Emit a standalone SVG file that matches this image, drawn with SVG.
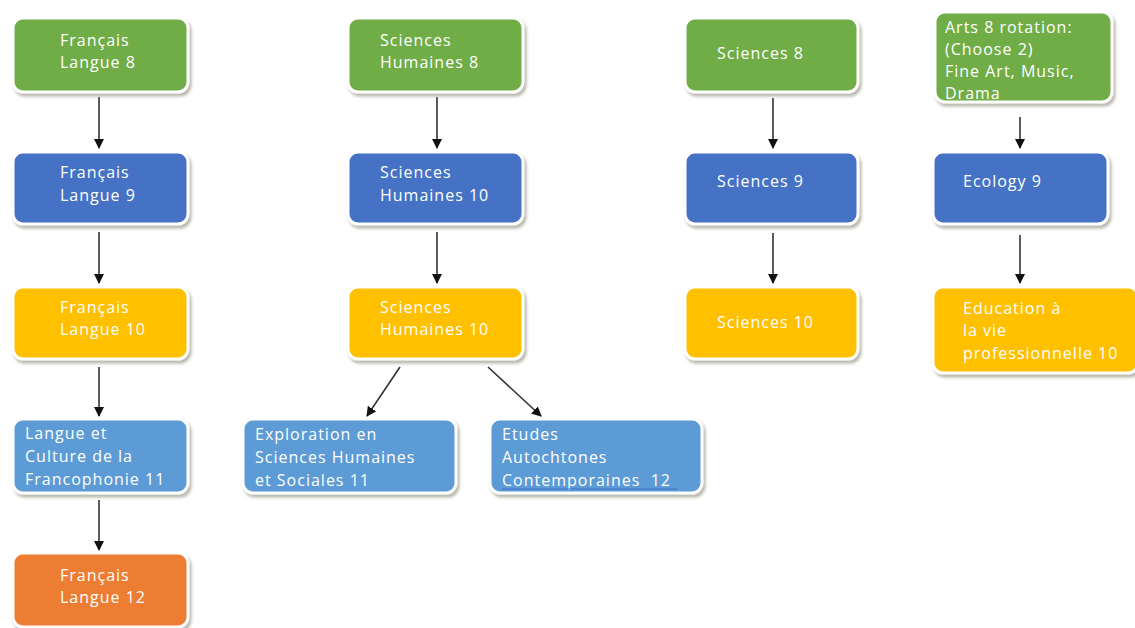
<svg xmlns="http://www.w3.org/2000/svg" width="1135" height="628" viewBox="0 0 1135 628">
<style>
.box{stroke:#ffffff;stroke-width:3;filter:url(#sh)}
.g{fill:#70AD47}.b{fill:#4472C4}.y{fill:#FFC000}.lb{fill:#5B9BD5}.o{fill:#ED7D31}
text{font-family:"Open Sans","Liberation Sans",sans-serif;font-size:16px;font-weight:500;letter-spacing:1px;fill:#ffffff;dominant-baseline:central}
.c line{stroke:#333333;stroke-width:1.6;marker-end:url(#ah)}
</style>
<defs>
<filter id="sh" x="-10%" y="-10%" width="125%" height="130%">
<feDropShadow dx="2" dy="3" stdDeviation="1.6" flood-color="#9a9a8a" flood-opacity="0.7"/>
</filter>
<marker id="ah" viewBox="0 0 10 10" refX="9" refY="5" markerWidth="10" markerHeight="10" markerUnits="userSpaceOnUse" orient="auto">
<path d="M0,0 L10,5 L0,10 Z" fill="#111111"/>
</marker>
</defs>
<rect width="1135" height="628" fill="#ffffff"/>
<g class="c" id="connectors">
<line x1="99" y1="97" x2="99" y2="148"/>
<line x1="99" y1="232" x2="99" y2="283"/>
<line x1="99" y1="367" x2="99" y2="416"/>
<line x1="99" y1="500" x2="99" y2="550"/>
<line x1="437" y1="97" x2="437" y2="148"/>
<line x1="437" y1="232" x2="437" y2="283"/>
<line x1="400" y1="367" x2="367" y2="416"/>
<line x1="488" y1="367" x2="541" y2="416"/>
<line x1="773" y1="98" x2="773" y2="148"/>
<line x1="773" y1="233" x2="773" y2="283"/>
<line x1="1020" y1="117" x2="1020" y2="148"/>
<line x1="1020" y1="235" x2="1020" y2="283"/>
</g>
<g id="fl8"><rect class="box g" x="13" y="18" width="175" height="74" rx="10"/><text x="60" y="40">Français</text><text x="60" y="62">Langue 8</text></g>
<g id="fl9"><rect class="box b" x="13" y="152" width="175" height="72" rx="10"/><text x="60" y="172">Français</text><text x="60" y="195">Langue 9</text></g>
<g id="fl10"><rect class="box y" x="13" y="287" width="175" height="72" rx="10"/><text x="60" y="307">Français</text><text x="60" y="329">Langue 10</text></g>
<g id="lcf11"><rect class="box lb" x="13" y="419" width="175" height="74" rx="10"/><text x="25" y="433">Langue et</text><text x="25" y="456">Culture de la</text><text x="25" y="479">Francophonie 11</text></g>
<g id="fl12"><rect class="box o" x="13" y="553" width="175" height="74" rx="10"/><text x="60" y="575">Français</text><text x="60" y="597">Langue 12</text></g>
<g id="sh8"><rect class="box g" x="348" y="18" width="175" height="74" rx="10"/><text x="380" y="40">Sciences</text><text x="380" y="62">Humaines 8</text></g>
<g id="sh10a"><rect class="box b" x="348" y="152" width="175" height="72" rx="10"/><text x="380" y="172">Sciences</text><text x="380" y="195">Humaines 10</text></g>
<g id="sh10b"><rect class="box y" x="348" y="287" width="175" height="72" rx="10"/><text x="380" y="307">Sciences</text><text x="380" y="329">Humaines 10</text></g>
<g id="esh11"><rect class="box lb" x="243" y="419" width="213" height="74" rx="10"/><text x="255" y="434">Exploration en</text><text x="255" y="457">Sciences Humaines</text><text x="255" y="480">et Sociales 11</text></g>
<g id="eac12"><rect class="box lb" x="490" y="419" width="212" height="74" rx="10"/><text x="502" y="434">Etudes</text><text x="502" y="457">Autochtones</text><text x="502" y="480" xml:space="preserve">Contemporaines  12</text><line x1="502" y1="489" x2="677" y2="489" stroke="#3f6fd0" stroke-width="1"/></g>
<g id="s8"><rect class="box g" x="685" y="18" width="173" height="74" rx="10"/><text x="717" y="53">Sciences 8</text></g>
<g id="s9"><rect class="box b" x="685" y="152" width="173" height="72" rx="10"/><text x="717" y="181">Sciences 9</text></g>
<g id="s10"><rect class="box y" x="685" y="287" width="173" height="72" rx="10"/><text x="717" y="322">Sciences 10</text></g>
<g id="arts8"><rect class="box g" x="935" y="12" width="177" height="90" rx="10"/><text x="945" y="27">Arts 8 rotation:</text><text x="945" y="49">(Choose 2)</text><text x="945" y="71">Fine Art, Music,</text><text x="945" y="93">Drama</text></g>
<g id="eco9"><rect class="box b" x="933" y="152" width="175" height="72" rx="10"/><text x="963" y="181">Ecology 9</text></g>
<g id="evp10"><rect class="box y" x="933" y="287" width="205" height="86" rx="10"/><text x="963" y="308">Education à</text><text x="963" y="330">la vie</text><text x="963" y="353">professionnelle 10</text></g>
</svg>
